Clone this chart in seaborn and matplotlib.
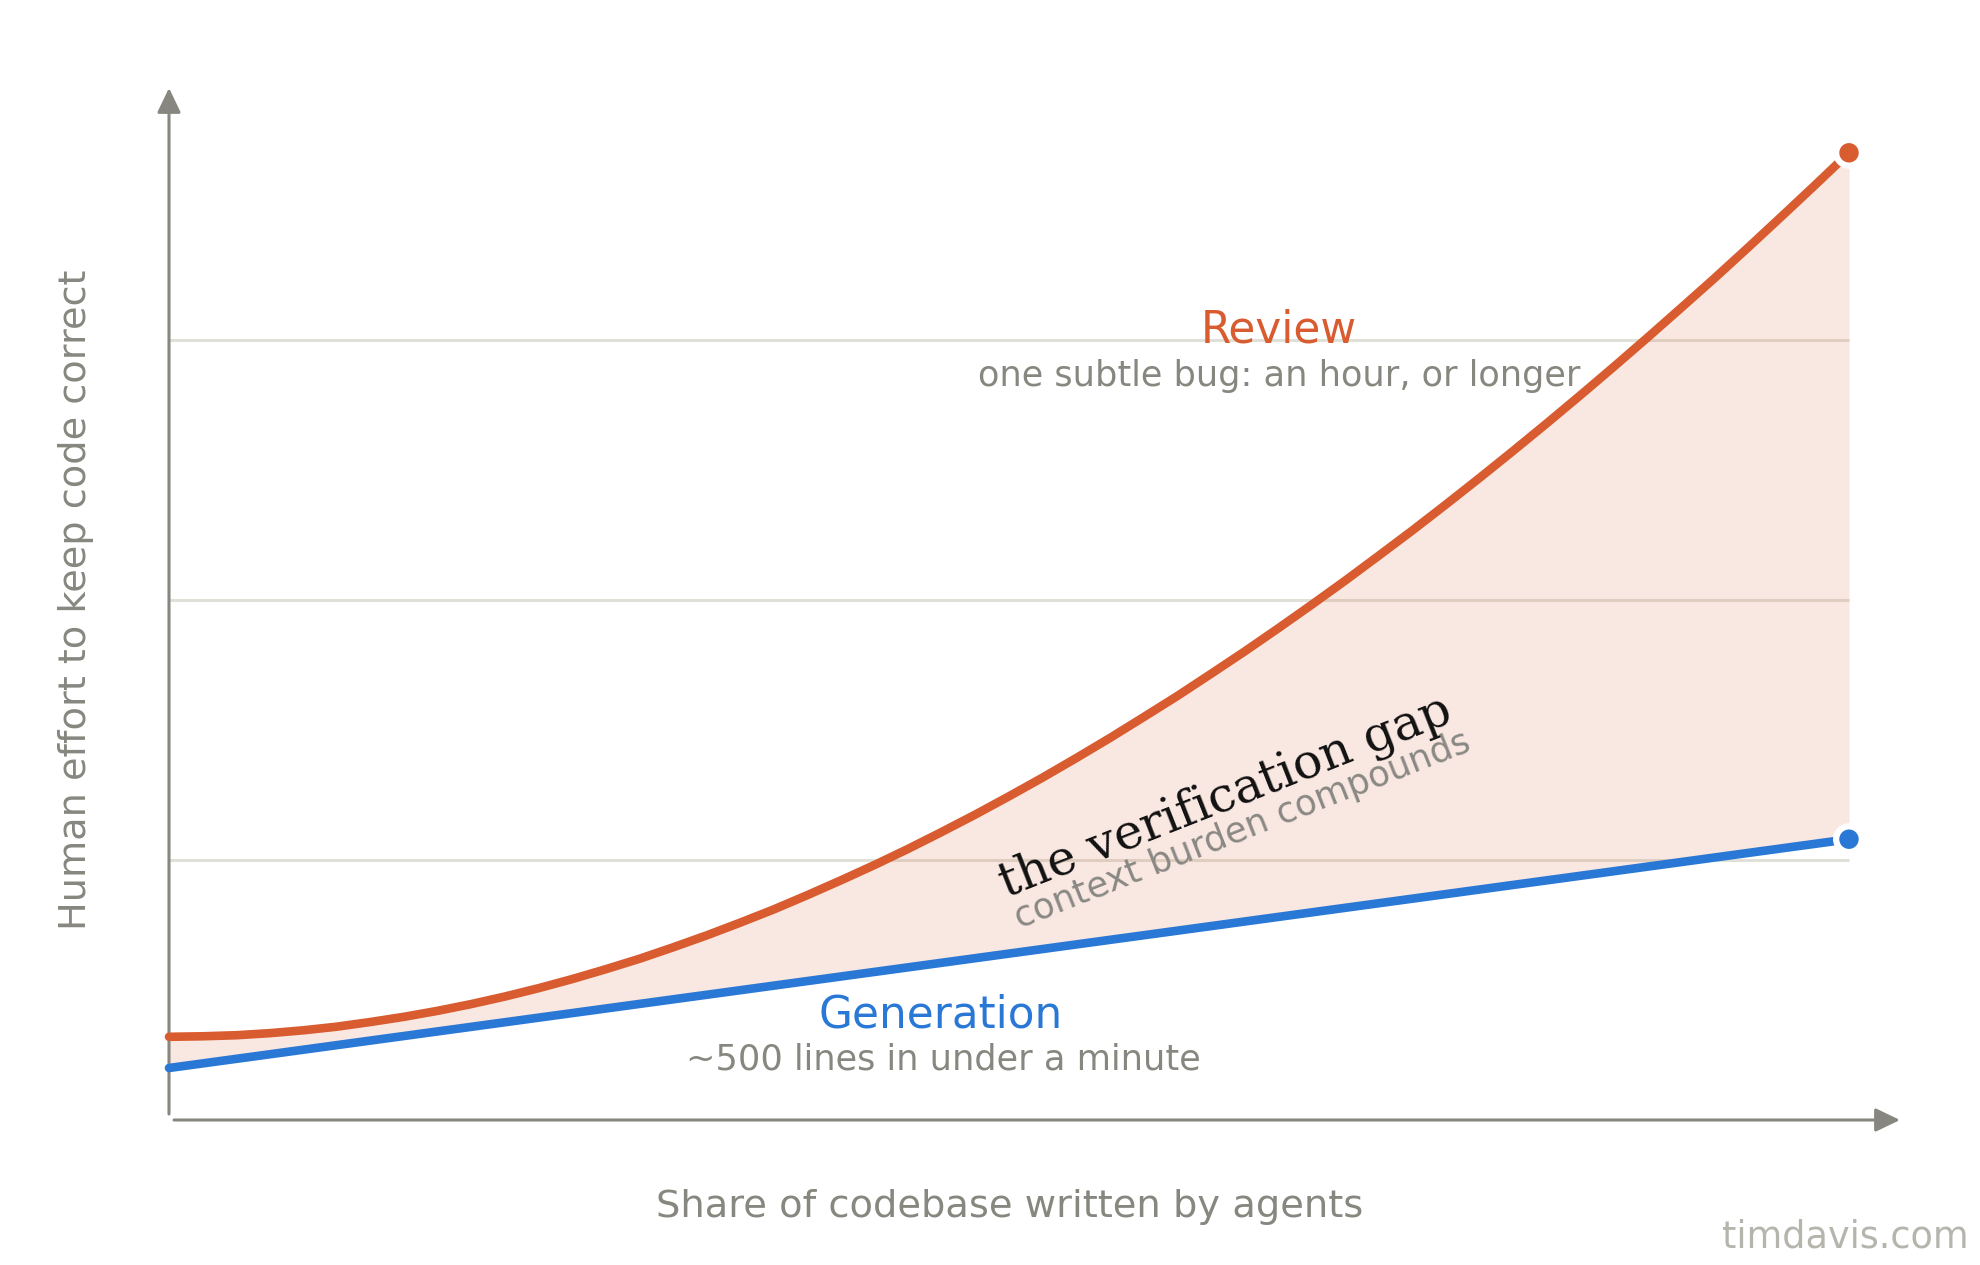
import numpy as np
import pandas as pd
import matplotlib
matplotlib.use("Agg")
import matplotlib.pyplot as plt
import seaborn as sns

# ---- data ----
share = [0.00, 0.02, 0.04, 0.06, 0.08, 0.10, 0.12, 0.14, 0.16, 0.18,
         0.20, 0.22, 0.24, 0.26, 0.28, 0.30, 0.32, 0.34, 0.36, 0.38,
         0.40, 0.42, 0.44, 0.46, 0.48, 0.50, 0.52, 0.54, 0.56, 0.58,
         0.60, 0.62, 0.64, 0.66, 0.68, 0.70, 0.72, 0.74, 0.76, 0.78,
         0.80, 0.82, 0.84, 0.86, 0.88, 0.90, 0.92, 0.94, 0.96, 0.98, 1.00]
review_effort = [0.320, 0.322, 0.326, 0.334, 0.345, 0.359, 0.377, 0.397, 0.420, 0.446,
                 0.475, 0.507, 0.542, 0.580, 0.620, 0.664, 0.710, 0.759, 0.810, 0.865,
                 0.922, 0.981, 1.043, 1.108, 1.175, 1.245, 1.317, 1.392, 1.469, 1.549,
                 1.630, 1.715, 1.801, 1.890, 1.981, 2.074, 2.170, 2.267, 2.367, 2.469,
                 2.573, 2.679, 2.787, 2.897, 3.009, 3.123, 3.238, 3.356, 3.476, 3.597, 3.720]
gen_share = [0.00, 0.25, 0.50, 0.75, 1.00]
generation_effort = [0.20, 0.42, 0.64, 0.86, 1.08]
grid_levels = [1, 2, 3]

x_label = "Share of codebase written by agents"
y_label = "Human effort to keep code correct"
review_title = "Review"
review_note = "one subtle bug: an hour, or longer"
gen_title = "Generation"
gen_note = "~500 lines in under a minute"
gap_title = "the verification gap"
gap_note = "context burden compounds"
watermark = "timdavis.com"

ORANGE = "#d95b30"
BLUE = "#2a78d6"
GRAY = "#878780"
GRID = "#e0e0d8"

sns.set_theme(style="white")
plt.rcParams["font.family"] = ["DejaVu Sans"]

W, H = 1980, 1265
fig = plt.figure(figsize=(W / 100, H / 100), dpi=100)
fig.patch.set_facecolor("white")

# axes: data x 0 -> px 169, 1 -> px 1849 ; data y 0 -> px 1120, 1 unit = 260 px
x0px, y0px, xu, yu = 169, 1120, 1680, 260
xmax, ymax = 1.04, 4.0
ax = fig.add_axes([x0px / W, (H - y0px) / H, xmax * xu / W, ymax * yu / H])
ax.set_xlim(0, xmax)
ax.set_ylim(0, ymax)
ax.axis("off")

# gridlines
ax.hlines(grid_levels, 0.0, 1.0, colors=GRID, linewidth=2.2, zorder=1)

# gap fill
rev = pd.DataFrame({"share": share, "effort": review_effort})
gen = pd.DataFrame({"share": gen_share, "effort": generation_effort})
gen_on_rev = np.interp(share, gen_share, generation_effort)
ax.fill_between(share, gen_on_rev, review_effort, color=ORANGE, alpha=0.14,
                linewidth=0, zorder=2)

# curves
sns.lineplot(data=rev, x="share", y="effort", ax=ax, color=ORANGE, linewidth=6.2,
             sort=False, zorder=4, solid_capstyle="round", solid_joinstyle="round",
             clip_on=False)
sns.lineplot(data=gen, x="share", y="effort", ax=ax, color=BLUE, linewidth=6.2,
             sort=False, zorder=4, solid_capstyle="round", solid_joinstyle="round",
             clip_on=False)

# end points
ends = pd.DataFrame({"share": [share[-1], gen_share[-1]],
                     "effort": [review_effort[-1], generation_effort[-1]],
                     "series": ["Review", "Generation"]})
sns.scatterplot(data=ends, x="share", y="effort", hue="series",
                palette={"Review": ORANGE, "Generation": BLUE},
                s=18.5 ** 2, edgecolor="white", linewidth=4.5, zorder=6,
                legend=False, ax=ax, clip_on=False)

# axis arrows
arrow_kw = dict(arrowstyle="-|>,head_length=0.75,head_width=0.36", mutation_scale=20,
                color=GRAY, lw=2.2, shrinkA=0, shrinkB=0)
ax.annotate("", xy=(0, (y0px - 88) / yu), xytext=(0, 0.023),
            arrowprops=arrow_kw, annotation_clip=False, zorder=3)
ax.annotate("", xy=((1900 - x0px) / xu, 0), xytext=(0.003, 0),
            arrowprops=arrow_kw, annotation_clip=False, zorder=3)

# series labels
ax.text(0.6607, 2.992, review_title, color=ORANGE, fontsize=31.5, ha="center", va="baseline", zorder=7)
ax.text(0.6607, 2.823, review_note, color=GRAY, fontsize=25.3, ha="center", va="baseline", zorder=7)
ax.text(0.4595, 0.354, gen_title, color=BLUE, fontsize=31.5, ha="center", va="baseline", zorder=7)
ax.text(0.4607, 0.196, gen_note, color=GRAY, fontsize=25.3, ha="center", va="baseline", zorder=7)

# gap annotation
ax.text(0.629, 1.242, gap_title, color="#111111", fontsize=35, family="DejaVu Serif",
        rotation=21.5, rotation_mode="anchor", ha="center", va="center", zorder=7)
ax.text(0.6387, 1.115, gap_note, color="#8a8884", fontsize=25.5,
        rotation=21.5, rotation_mode="anchor", ha="center", va="center", zorder=7)

# axis titles and watermark
fig.text(76 / W, 1 - 600 / H, y_label, rotation=90, color=GRAY, fontsize=27.5,
         ha="center", va="center")
fig.text(1010 / W, 1 - 1217 / H, x_label, color=GRAY, fontsize=27.6,
         ha="center", va="baseline")
fig.text(1969 / W, 1 - 1247 / H, watermark, color="#b5b5ad", fontsize=26.4,
         ha="right", va="baseline")

fig.savefig("out.png", dpi=100, facecolor="white")
